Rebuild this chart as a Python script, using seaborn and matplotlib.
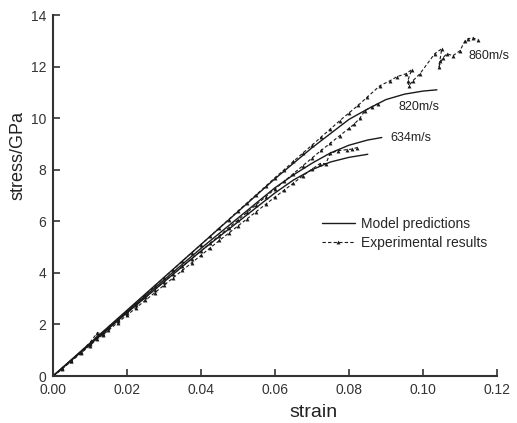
import numpy as np
import pandas as pd
import matplotlib
matplotlib.use("Agg")
import matplotlib.pyplot as plt
import seaborn as sns

# ---- data ----
# Model predictions (solid)
model_a_x = [0, 0.02, 0.04, 0.06, 0.07, 0.08, 0.085, 0.09, 0.095, 0.1, 0.1038]
model_a_y = [0, 2.55, 5.1, 7.65, 8.85, 9.95, 10.35, 10.72, 10.93, 11.05, 11.1]
model_b_x = [0, 0.02, 0.04, 0.06, 0.065, 0.07, 0.075, 0.08, 0.085, 0.0889]
model_b_y = [0, 2.5, 4.95, 7.3, 7.8, 8.25, 8.65, 8.95, 9.15, 9.25]
model_c_x = [0, 0.02, 0.04, 0.06, 0.065, 0.07, 0.075, 0.08, 0.0851]
model_c_y = [0, 2.45, 4.85, 7.1, 7.6, 8.0, 8.3, 8.48, 8.6]

# Experimental results (dashed with markers)
exp_860_x = [0, 0.0025, 0.005, 0.0075, 0.01, 0.012, 0.0135, 0.015, 0.0175, 0.02,
             0.0225, 0.025, 0.0275, 0.03, 0.0325, 0.035, 0.0375, 0.04, 0.0425, 0.045,
             0.0475, 0.05, 0.0525, 0.055, 0.0575, 0.06, 0.0625, 0.065, 0.0675, 0.07,
             0.0725, 0.075, 0.0775, 0.08, 0.0825, 0.085, 0.0884, 0.0911, 0.093, 0.0954,
             0.097, 0.0959, 0.0962, 0.0973, 0.0992, 0.1032, 0.1051, 0.1046, 0.1043, 0.1054,
             0.1065, 0.1081, 0.11, 0.1114, 0.1122, 0.1135, 0.1149]
exp_860_y = [0, 0.3, 0.62, 0.95, 1.3, 1.68, 1.62, 1.9, 2.2, 2.52,
             2.84, 3.16, 3.48, 3.81, 4.13, 4.46, 4.78, 5.1, 5.42, 5.75,
             6.07, 6.4, 6.72, 7.04, 7.36, 7.69, 8.0, 8.32, 8.64, 8.95,
             9.27, 9.58, 9.9, 10.2, 10.5, 10.82, 11.26, 11.45, 11.61, 11.72,
             11.88, 11.45, 11.26, 11.45, 11.72, 12.5, 12.69, 12.23, 11.99, 12.34,
             12.5, 12.42, 12.61, 13.0, 13.08, 13.11, 13.04]

exp_820_x = [0, 0.0025, 0.005, 0.0075, 0.01, 0.012, 0.0135, 0.015, 0.0175, 0.02,
             0.0225, 0.025, 0.0275, 0.03, 0.0325, 0.035, 0.0375, 0.04, 0.0425, 0.045,
             0.0475, 0.05, 0.0525, 0.055, 0.0575, 0.06, 0.0625, 0.065, 0.0675, 0.07,
             0.0725, 0.075, 0.0775, 0.08, 0.0815, 0.083, 0.0843, 0.0862, 0.0878]
exp_820_y = [0, 0.3, 0.6, 0.92, 1.25, 1.55, 1.7, 1.85, 2.15, 2.45,
             2.75, 3.05, 3.35, 3.65, 3.95, 4.25, 4.55, 4.85, 5.15, 5.45,
             5.75, 6.05, 6.35, 6.65, 6.95, 7.25, 7.55, 7.85, 8.15, 8.45,
             8.75, 9.03, 9.32, 9.6, 9.78, 10.0, 10.29, 10.44, 10.56]

exp_634_x = [0, 0.0025, 0.005, 0.0075, 0.01, 0.012, 0.0135, 0.015, 0.0175, 0.02,
             0.0225, 0.025, 0.0275, 0.03, 0.0325, 0.035, 0.0375, 0.04, 0.0425, 0.045,
             0.0475, 0.05, 0.0525, 0.055, 0.0575, 0.06, 0.0625, 0.065, 0.0675, 0.07,
             0.0722, 0.0738, 0.0749, 0.077, 0.0795, 0.0808, 0.0822]
exp_634_y = [0, 0.28, 0.58, 0.88, 1.18, 1.45, 1.6, 1.78, 2.07, 2.36,
             2.65, 2.94, 3.23, 3.52, 3.81, 4.1, 4.39, 4.68, 4.97, 5.26,
             5.54, 5.82, 6.1, 6.38, 6.66, 6.94, 7.21, 7.48, 7.76, 8.02,
             8.24, 8.24, 8.63, 8.74, 8.78, 8.8, 8.86]

labels_text = ["860m/s", "820m/s", "634m/s"]
labels_x = [0.1178, 0.0989, 0.0968]
labels_y = [12.42, 10.44, 9.25]

x_ticks = [0.00, 0.02, 0.04, 0.06, 0.08, 0.10, 0.12]
y_ticks = [0, 2, 4, 6, 8, 10, 12, 14]

# ---- figure ----
sns.set_theme(style="white")
plt.rcParams['font.family'] = ['Liberation Sans', 'DejaVu Sans']

fig = plt.figure(figsize=(5.17, 4.23), dpi=100)
ax = fig.add_axes([0.1025, 0.111, 0.8585, 0.8535])

def frame(xs, ys, name):
    return pd.DataFrame({"strain": xs, "stress": ys, "curve": name, "order": range(len(xs))})

models = [frame(model_a_x, model_a_y, "A"), frame(model_b_x, model_b_y, "B"),
          frame(model_c_x, model_c_y, "C")]
exps = [frame(exp_860_x, exp_860_y, "860"), frame(exp_820_x, exp_820_y, "820"),
        frame(exp_634_x, exp_634_y, "634")]

col = "#1a1a1a"
for i, d in enumerate(models):
    sns.lineplot(data=d, x="strain", y="stress", sort=False, estimator=None, ax=ax,
                 color=col, linewidth=1.0,
                 label="Model predictions" if i == 0 else None)
for i, d in enumerate(exps):
    sns.lineplot(data=d, x="strain", y="stress", sort=False, estimator=None, ax=ax,
                 color=col, linewidth=0.8, linestyle=(0, (3, 2)),
                 marker="^", markersize=2.8, markeredgewidth=0,
                 label="Experimental results" if i == 0 else None)

for t, x, y in zip(labels_text, labels_x, labels_y):
    ax.text(x, y, t, fontsize=9, ha="center", va="center", color="#222222")

ax.set_xlim(0, 0.12)
ax.set_ylim(0, 14)
ax.set_xticks(x_ticks)
ax.set_xticklabels([f"{v:.2f}" for v in x_ticks])
ax.set_yticks(y_ticks)
ax.set_yticklabels([str(v) for v in y_ticks])
ax.set_xlabel("strain", fontsize=14, color="#222222")
ax.set_ylabel("stress/GPa", fontsize=13, color="#222222")
ax.xaxis.set_label_coords(0.587, -0.078)
ax.yaxis.set_label_coords(-0.06, 0.612)

for s in ["top", "right"]:
    ax.spines[s].set_visible(False)
for s in ["left", "bottom"]:
    ax.spines[s].set_color("#333333")
    ax.spines[s].set_linewidth(1.5)
ax.tick_params(direction="in", length=5, width=1.2, color="#333333",
               labelsize=10, labelcolor="#333333", pad=5,
               left=True, bottom=True)

leg = ax.legend(loc="upper left", bbox_to_anchor=(0.59, 0.46), frameon=False,
                fontsize=10, handlelength=2.4, handletextpad=0.4,
                borderpad=0, labelspacing=0.35)

fig.savefig("out.png", dpi=100)
